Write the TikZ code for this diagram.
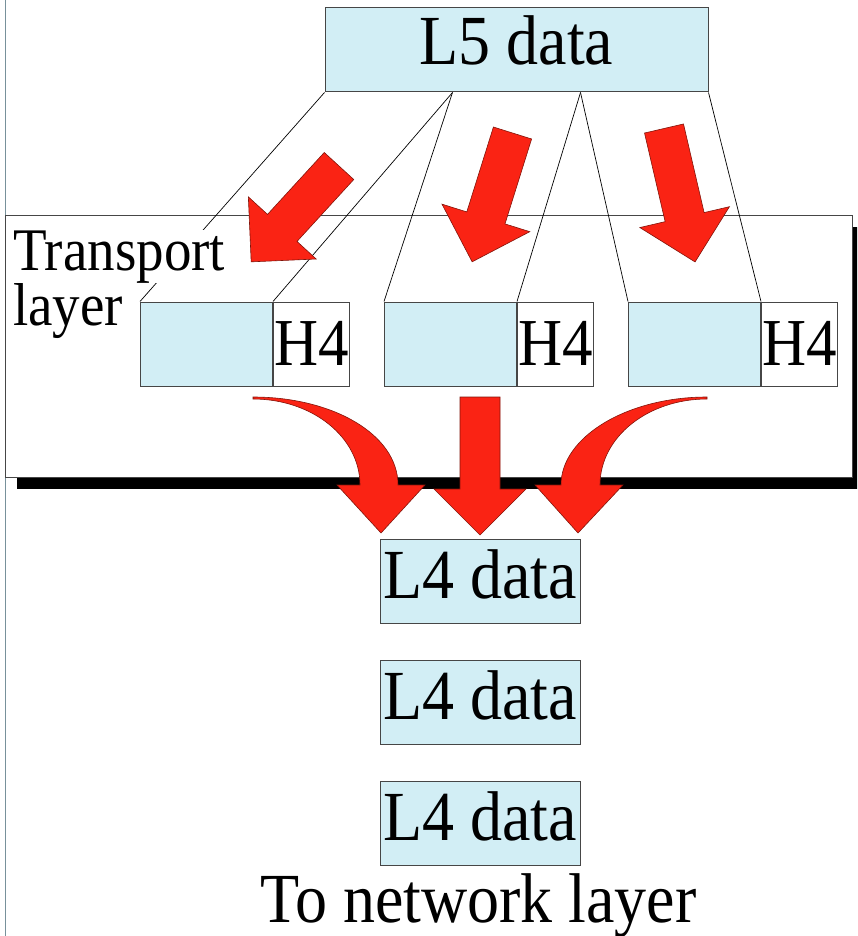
\documentclass[tikz,border=0pt]{standalone}
\usepackage{fontspec}
\setmainfont{Liberation Serif}
\usetikzlibrary{calc,positioning,shadows}

\definecolor{pdublue}{RGB}{210,238,245}
\definecolor{boxgrey}{RGB}{70,70,70}
\definecolor{fatred}{RGB}{250,35,20}
\definecolor{fatedge}{RGB}{130,20,10}
\definecolor{slidegrey}{RGB}{120,145,155}

\newcommand{\bigserif}{\fontsize{64}{70}\selectfont}
\newcommand{\tall}[1]{\scalebox{1}[1.1]{#1}}

\tikzset{
  pics/fatarrow/.style={code={
    \filldraw[fill=fatred,draw=fatedge,line width=0.6pt]
      (-20,0) -- (-20,{#1-46}) -- (-46,{#1-46}) -- (0,#1)
      -- (46,{#1-46}) -- (20,{#1-46}) -- (20,0) -- cycle;
  }}
}

\begin{document}
\begin{tikzpicture}[x=1pt,y=-1pt,
    payload/.style={draw=boxgrey,fill=pdublue,line width=1pt,inner sep=0pt,
      minimum height=84pt,font=\bigserif,text depth=0pt},
    header/.style={draw=boxgrey,fill=white,line width=1pt,inner sep=0pt,
      minimum width=76pt,minimum height=84pt,font=\fontsize{61}{66}\selectfont,
      text height=42pt,text depth=0pt},
    wire/.style={line width=0.7pt},
    fatfill/.style={fill=fatred,draw=fatedge,line width=0.6pt}]
  \useasboundingbox (0,0) rectangle (857,936);
  \clip (0,0) rectangle (857,936);

  \draw[slidegrey,line width=1pt] (5,0) -- (5,936);

  % transport layer
  \node[draw=boxgrey,fill=white,line width=1pt,minimum width=847pt,minimum height=262pt,
    drop shadow={shadow xshift=12pt,shadow yshift=-12pt,fill=black,opacity=1}]
    (tl) at (428.5,346) {};

  \node[payload,minimum width=383pt,text height=30pt] (l5) at (516.5,50) {\tall{L5 data}};

  \node[payload,minimum width=132pt,anchor=west] (d1) at (140,344) {};
  \node[header,right=0pt of d1] (h1) {\tall{H4}};
  \node[payload,minimum width=132pt,right=34pt of h1] (d2) {};
  \node[header,right=0pt of d2] (h2) {\tall{H4}};
  \node[payload,minimum width=132pt,right=34pt of h2] (d3) {};
  \node[header,right=0pt of d3] (h3) {\tall{H4}};

  % L5 data -> segments
  \coordinate (cutA) at ($(l5.south west)!1/3!(l5.south east)$);
  \coordinate (cutB) at ($(l5.south west)!2/3!(l5.south east)$);
  \draw[wire] (l5.south west) -- (d1.north west);
  \draw[wire] (cutA) -- (h1.north west);
  \draw[wire] (cutA) -- (d2.north west);
  \draw[wire] (cutB) -- (h2.north west);
  \draw[wire] (cutB) -- (d3.north west);
  \draw[wire] (l5.south east) -- (h3.north west);

  \node[fill=white,inner sep=0pt,anchor=base west,font=\fontsize{55}{60}\selectfont]
    (tp) at (13,270) {\tall{Transport}};
  \node[inner sep=0pt,anchor=base west,font=\fontsize{55}{60}\selectfont]
    (ly) at (13,325) {\tall{layer}};

  \pic[rotate=-42.5] at (339,166) {fatarrow=130};
  \pic[rotate=-17.4] at (512.5,133) {fatarrow=135};
  \pic[rotate=13.1] at (664,128.5) {fatarrow=137};

  % segments -> L4 data
  \node[payload,minimum width=200pt,text height=34pt] (l4a) at (480,581) {\tall{L4 data}};
  \node[payload,minimum width=200pt,text height=34pt,below=36pt of l4a] (l4b) {\tall{L4 data}};
  \node[payload,minimum width=200pt,text height=34pt,below=36pt of l4b] (l4c) {\tall{L4 data}};

  \filldraw[fatfill] (253,397) .. controls (332,397) and (398,434) .. (398,485)
    -- (425,485) -- (381,533) -- (337,485) -- (360,485)
    .. controls (360,437) and (312,399) .. (253,399) -- cycle;
  \pic at (480,397) {fatarrow=138};
  \filldraw[fatfill] (707,397) .. controls (627,397) and (561,437) .. (561,485)
    -- (535,485) -- (578,533) -- (623,485) -- (600,485)
    .. controls (600,437) and (648,399) .. (707,399) -- cycle;

  \node[anchor=base,inner sep=0pt,font=\bigserif] (net) at (478.5,922) {\tall{To network layer}};
\end{tikzpicture}
\end{document}
